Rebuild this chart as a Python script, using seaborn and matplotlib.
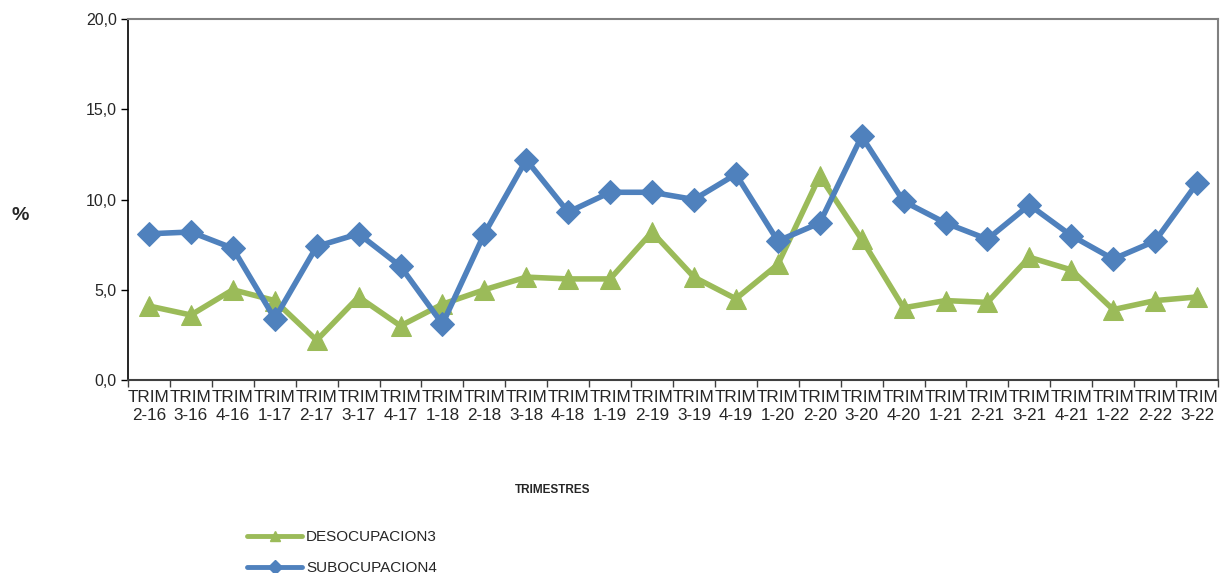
import pandas as pd
import matplotlib
matplotlib.use('Agg')
import matplotlib.pyplot as plt
import seaborn as sns
from matplotlib.lines import Line2D
from matplotlib.ticker import FixedLocator

trimestres = ["2-16", "3-16", "4-16", "1-17", "2-17", "3-17", "4-17", "1-18", "2-18",
              "3-18", "4-18", "1-19", "2-19", "3-19", "4-19", "1-20", "2-20", "3-20",
              "4-20", "1-21", "2-21", "3-21", "4-21", "1-22", "2-22", "3-22"]
desocupacion = [4.1, 3.6, 5.0, 4.4, 2.2, 4.6, 3.0, 4.2, 5.0, 5.7, 5.6, 5.6, 8.2,
                5.7, 4.5, 6.4, 11.3, 7.8, 4.0, 4.4, 4.3, 6.8, 6.1, 3.9, 4.4, 4.6]
subocupacion = [8.1, 8.2, 7.3, 3.4, 7.4, 8.1, 6.3, 3.1, 8.1, 12.2, 9.3, 10.4, 10.4,
                10.0, 11.4, 7.7, 8.7, 13.5, 9.9, 8.7, 7.8, 9.7, 8.0, 6.7, 7.7, 10.9]

series_names = ["DESOCUPACION3", "SUBOCUPACION4"]
colores = {"DESOCUPACION3": "#9BBB59", "SUBOCUPACION4": "#4F81BD"}
marcadores = {"DESOCUPACION3": "^", "SUBOCUPACION4": "D"}

n = len(trimestres)
df = pd.DataFrame({
    "pos": list(range(n)) * 2,
    "valor": desocupacion + subocupacion,
    "serie": [series_names[0]] * n + [series_names[1]] * n,
})

sns.set_style("white")
plt.rcParams['font.family'] = ['Liberation Sans', 'DejaVu Sans']

fig = plt.figure(figsize=(12.22, 5.73), dpi=100)
ax = fig.add_axes([128 / 1222, 1 - 380 / 573, (1218 - 128) / 1222, (380 - 19) / 573])

for s, ms in [("DESOCUPACION3", 14), ("SUBOCUPACION4", 12)]:
    sub = df[df["serie"] == s]
    sns.lineplot(data=sub, x="pos", y="valor", ax=ax, color=colores[s],
                 marker=marcadores[s], markersize=ms, markeredgecolor=colores[s],
                 linewidth=4, legend=False)

ax.set_xlim(-0.5, n - 0.5)
ax.set_ylim(0, 20)
ax.set_yticks([0, 5, 10, 15, 20])
ax.set_yticklabels(["0,0", "5,0", "10,0", "15,0", "20,0"], fontsize=11.5)
ax.set_xticks(range(n))
ax.set_xticklabels(["TRIM\n" + t for t in trimestres], fontsize=12.3, linespacing=1.3)
ax.xaxis.set_minor_locator(FixedLocator([i - 0.5 for i in range(n + 1)]))
ax.tick_params(axis="x", which="major", length=0, pad=7)
ax.tick_params(axis="x", which="minor", length=5, width=1, color="#404040", direction="out", bottom=True)
ax.tick_params(axis="y", length=5, width=1, color="black", direction="out", left=True, pad=3)
ax.set_xlabel("")
ax.set_ylabel("")

for side in ["top", "right"]:
    ax.spines[side].set_color("#808080")
    ax.spines[side].set_linewidth(1.5)
ax.spines["left"].set_color("black")
ax.spines["left"].set_linewidth(1.2)
ax.spines["bottom"].set_color("#404040")
ax.spines["bottom"].set_linewidth(1.5)

fig.text(20 / 1222, 1 - 215 / 573, "%", fontsize=14, fontweight="bold", ha="center", va="center")
fig.text(553 / 1222, 1 - 490 / 573, "TRIMESTRES", fontsize=8.5, fontweight="bold", ha="center", va="center")

handles = [Line2D([0], [0], color=colores[s], marker=marcadores[s], markersize=7, linewidth=3.5)
           for s in series_names]
fig.legend(handles, series_names, loc="upper left", bbox_to_anchor=(241 / 1222, 1 - 524 / 573),
           frameon=False, fontsize=11, handlelength=3.6, handletextpad=0.25, labelspacing=1.1,
           borderaxespad=0)

fig.savefig("out.png", dpi=100)
